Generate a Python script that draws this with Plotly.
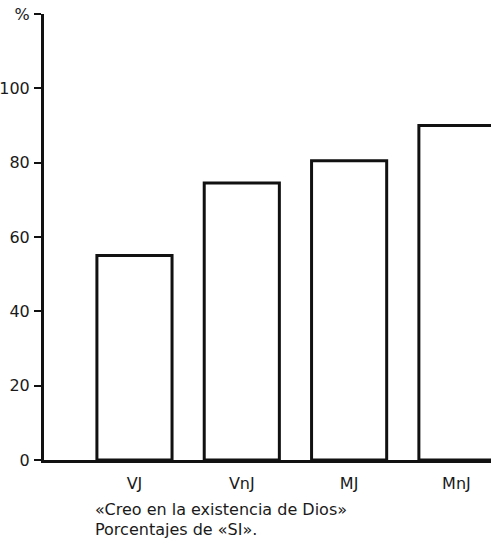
import plotly.graph_objects as go

categories = ["VJ", "VnJ", "MJ", "MnJ"]
values = [55, 74.5, 80.5, 90]
y_tickvals = [0, 20, 40, 60, 80, 100, 120]
y_ticktext = ["0", "20", "40", "60", "80", "100", "%"]
caption_lines = ["«Creo en la existencia de Dios»", "Porcentajes de «SI»."]

W, H = 491, 549
L, R, T, B = 44, 0, 14, 89

fig = go.Figure()
fig.add_trace(go.Bar(
    x=list(range(len(categories))), y=values,
    width=0.70,
    marker=dict(color="white", line=dict(color="#111", width=3)),
))

fig.update_layout(
    width=W, height=H,
    margin=dict(l=L, r=R, t=T, b=B, autoexpand=False),
    paper_bgcolor="white", plot_bgcolor="white",
    showlegend=False,
    font=dict(family="DejaVu Sans", size=16, color="#1a1a1a"),
    xaxis=dict(
        range=[-0.843, 3.322],
        tickvals=list(range(len(categories))), ticktext=categories,
        showgrid=False, zeroline=False, automargin=False,
        showline=True, linecolor="#111", linewidth=3,
        ticks="", ticklabelstandoff=7,
        tickfont=dict(size=16),
    ),
    yaxis=dict(
        range=[0, 120],
        tickvals=y_tickvals, ticktext=y_ticktext,
        showgrid=False, zeroline=False, automargin=False,
        showline=True, linecolor="#111", linewidth=3,
        ticks="outside", ticklen=7, tickwidth=2, tickcolor="#111",
        ticklabelstandoff=1, ticklabeloverflow="allow",
        tickfont=dict(size=16),
    ),
)

for i, line in enumerate(caption_lines):
    py = 509 + i * 20
    fig.add_annotation(
        text=line, xref="paper", yref="paper",
        x=(93 - L) / (W - L - R), y=(H - B - py) / (H - T - B),
        xanchor="left", yanchor="middle", showarrow=False,
        font=dict(family="DejaVu Sans", size=16, color="#1a1a1a"),
    )

# remove the browser's default 8px body margin so the figure sits at the page origin
fig.write_html("out.html", config={"displayModeBar": False},
               post_script="document.body.style.margin='0';")
